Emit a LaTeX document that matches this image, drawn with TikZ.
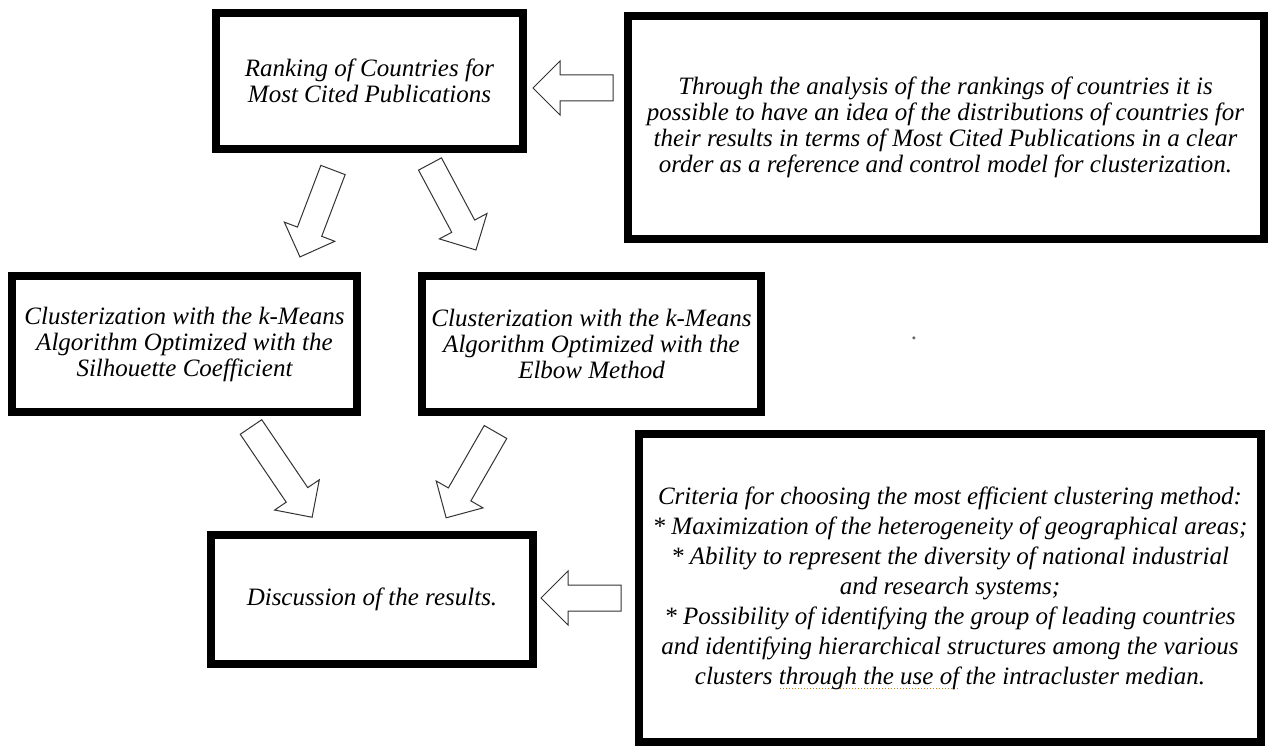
\documentclass[tikz,border=0pt]{standalone}
\usepackage{fontspec}
\setmainfont{Liberation Serif}
\definecolor{squigcol}{HTML}{C0801A}
\newsavebox\sqbox
\newcommand{\squig}[1]{\sbox\sqbox{#1}\rlap{\textcolor{squigcol}{\leaders\hbox to 3pt{\hss\rule[-5pt]{1.5pt}{1.5pt}\hss}\hskip\wd\sqbox}}\usebox\sqbox}
\tikzset{
  box/.style={draw=black, line width=8pt, fill=white, align=center, inner sep=0pt,
    font=\itshape\fontsize{25}{26}\selectfont},
  barrow/.style={draw=black!80, line width=1pt, fill=white, line join=miter},
}
\newcommand{\blockarrow}[4]{%
  \begin{scope}[shift={#2}, rotate=#3]
    \draw[barrow] (0,-13) -- ({#4-27},-13) -- ({#4-27},-27) -- (#4,0) -- ({#4-27},27) -- ({#4-27},13) -- (0,13) -- cycle;
    \coordinate (#1) at ({#4/2},0);
  \end{scope}}
\begin{document}
\begin{tikzpicture}[x=1pt, y=-1pt]
\useasboundingbox (0,0) rectangle (1269,746);
\fill[white] (0,0) rectangle (1269,746);

\node[box, minimum width=307pt, minimum height=136pt] (rank) at (369.5,81)
  {Ranking of Countries for\\Most Cited Publications};
\node[box, minimum width=636pt, minimum height=223pt] (through) at (945.5,127.5)
  {Through the analysis of the rankings of countries it is\\
   possible to have an idea of the distributions of countries for\\
   their results in terms of Most Cited Publications in a clear\\
   order as a reference and control model for clusterization.};
\node[box, minimum width=345pt, minimum height=136pt] (sil) at (184.5,344)
  {Clusterization with the k-Means\\Algorithm Optimized with the\\Silhouette Coefficient};
\node[box, minimum width=339pt, minimum height=136pt] (elbow) at (591.5,344)
  {Clusterization with the k-Means\\Algorithm Optimized with the\\Elbow Method};
\node[box, minimum width=322pt, minimum height=129pt] (disc) at (372,599.5)
  {Discussion of the results.};
\node[box, minimum width=622pt, minimum height=308pt,
      font=\itshape\fontsize{25}{30}\selectfont] (crit) at (950,588)
  {Criteria for choosing the most efficient clustering method:\\
   * Maximization of the heterogeneity of geographical areas;\\
   * Ability to represent the diversity of national industrial\\
   and research systems;\\
   * Possibility of identifying the group of leading countries\\
   and identifying hierarchical structures among the various\\
   clusters \squig{through the use of} the intracluster median.};

\node[font=\fontsize{25}{26}\selectfont, text=black!60, inner sep=0pt] (dot) at (914,338) {.};

\blockarrow{a1}{(613,88)}{180}{80}
\blockarrow{a5}{(621,598)}{180}{80}
\blockarrow{a2}{(333,170)}{-110.8}{93}
\blockarrow{a3}{(430,164)}{-61.9}{97.5}
\blockarrow{a4}{(251,427)}{-55.9}{109}
\blockarrow{a6}{(495.5,432)}{-119.9}{99}
\end{tikzpicture}
\end{document}
